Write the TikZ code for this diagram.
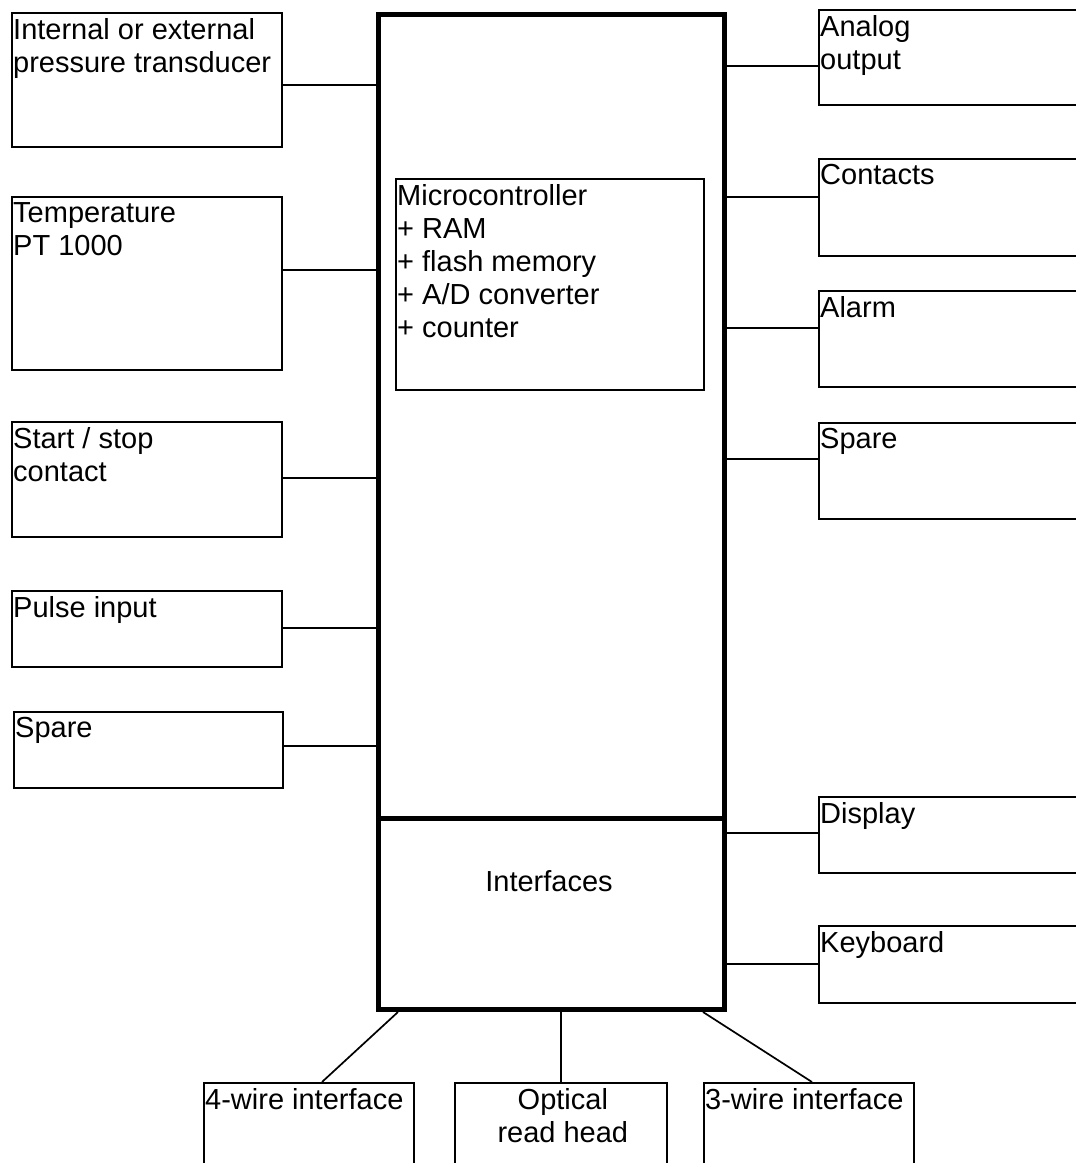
\documentclass[tikz,border=0pt]{standalone}
\usepackage{fontspec}
\setmainfont{Liberation Sans}
\usetikzlibrary{positioning}
\tikzset{
  unit/.style={draw,line width=1.7pt,inner sep=0pt,anchor=north west},
  core/.style={draw,line width=5pt,inner sep=0pt,anchor=north west},
  txt/.style={anchor=north west,inner sep=0pt,align=left,xshift=2pt,yshift=-6pt,
    font=\fontsize{29}{33}\selectfont},
  wire/.style={line width=1.7pt}
}
\begin{document}
\begin{tikzpicture}[x=1pt,y=-1pt]
  \useasboundingbox (0,0) rectangle (1076,1163);
  \clip (0,0) rectangle (1076,1163);
  % centre block
  \node[core,minimum width=346pt,minimum height=804pt] (ctrl) at (376,12) {};
  \node[core,minimum width=346pt,minimum height=191pt] (iface) at (376,816) {};
  \node[unit,minimum width=308pt,minimum height=211pt] (mcu) at (395,178) {};
  \node[txt] (mcut) at (mcu.north west)
    {Microcontroller\\+ RAM\\+ flash memory\\+ A/D converter\\+ counter};
  \node[anchor=base,inner sep=0pt,font=\fontsize{29}{33}\selectfont] (ifacet) at (549,891) {Interfaces};
  % inputs
  \node[unit,minimum width=270pt,minimum height=134pt] (press) at (11,12) {};
  \node[txt] (presst) at (press.north west) {Internal or external\\pressure transducer};
  \node[unit,minimum width=270pt,minimum height=173pt] (temp) at (11,196) {};
  \node[txt] (tempt) at (temp.north west) {Temperature\\PT 1000};
  \node[unit,minimum width=270pt,minimum height=115pt] (start) at (11,421) {};
  \node[txt] (startt) at (start.north west) {Start / stop\\contact};
  \node[unit,minimum width=270pt,minimum height=76pt] (pulse) at (11,590) {};
  \node[txt] (pulset) at (pulse.north west) {Pulse input};
  \node[unit,minimum width=269pt,minimum height=76pt] (lspare) at (13,711) {};
  \node[txt] (lsparet) at (lspare.north west) {Spare};
  % outputs
  \node[unit,minimum width=300pt,minimum height=95pt] (analog) at (818,9) {};
  \node[txt] (analogt) at (analog.north west) {Analog\\output};
  \node[unit,minimum width=300pt,minimum height=97pt] (contacts) at (818,158) {};
  \node[txt] (contactst) at (contacts.north west) {Contacts};
  \node[unit,minimum width=300pt,minimum height=96pt] (alarm) at (818,290) {};
  \node[txt] (alarmt) at (alarm.north west) {Alarm};
  \node[unit,minimum width=300pt,minimum height=96pt] (rspare) at (818,422) {};
  \node[txt] (rsparet) at (rspare.north west) {Spare};
  \node[unit,minimum width=300pt,minimum height=76pt] (display) at (818,796) {};
  \node[txt] (displayt) at (display.north west) {Display};
  \node[unit,minimum width=300pt,minimum height=77pt] (keys) at (818,925) {};
  \node[txt] (keyst) at (keys.north west) {Keyboard};
  % interfaces
  \node[unit,minimum width=210pt,minimum height=120pt] (four) at (203,1082) {};
  \node[txt] (fourt) at (four.north west) {4-wire interface};
  \node[unit,minimum width=212pt,minimum height=120pt] (optic) at (454,1082) {};
  \node[txt,anchor=north,align=center,xshift=0pt] (optict) at (optic.north) {Optical\\read head};
  \node[unit,minimum width=210pt,minimum height=120pt] (three) at (703,1082) {};
  \node[txt] (threet) at (three.north west) {3-wire interface};
  % connections
  \draw[wire] (press.east |- 0,85) -- (ctrl.west |- 0,85);
  \draw[wire] (temp.east |- 0,270) -- (ctrl.west |- 0,270);
  \draw[wire] (start.east |- 0,478) -- (ctrl.west |- 0,478);
  \draw[wire] (pulse.east |- 0,628) -- (ctrl.west |- 0,628);
  \draw[wire] (lspare.east |- 0,746) -- (ctrl.west |- 0,746);
  \draw[wire] (ctrl.east |- 0,66) -- (analog.west |- 0,66);
  \draw[wire] (ctrl.east |- 0,197) -- (contacts.west |- 0,197);
  \draw[wire] (ctrl.east |- 0,328) -- (alarm.west |- 0,328);
  \draw[wire] (ctrl.east |- 0,459) -- (rspare.west |- 0,459);
  \draw[wire] (iface.east |- 0,833) -- (display.west |- 0,833);
  \draw[wire] (iface.east |- 0,964) -- (keys.west |- 0,964);
  \draw[wire] (iface.south -| 398,0) -- (four.north -| 322,0);
  \draw[wire] (iface.south -| optic.north) -- (optic.north);
  \draw[wire] (iface.south -| 703,0) -- (three.north -| 812,0);
\end{tikzpicture}
\end{document}
